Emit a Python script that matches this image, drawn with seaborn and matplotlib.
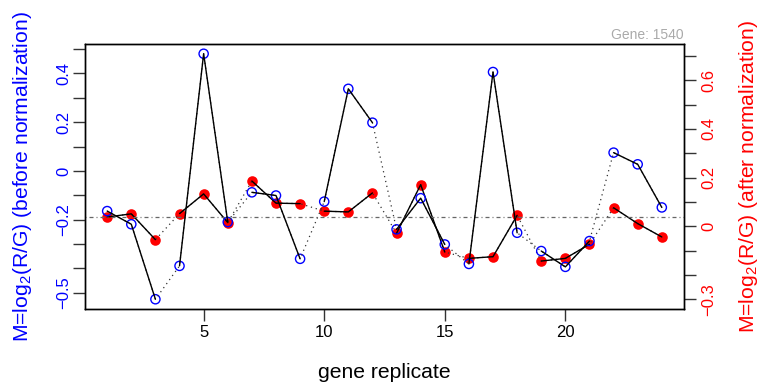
import numpy as np
import pandas as pd
import matplotlib
matplotlib.use("Agg")
import matplotlib.pyplot as plt
import seaborn as sns

# ---- data ----
replicate = list(range(1, 25))
group = [1, 1, 1, 2, 2, 2, 3, 3, 3, 4, 4, 4, 5, 5, 5, 6, 6, 6, 7, 7, 7, 8, 8, 8]
m_before = [-0.165, -0.219, -0.527, -0.390, 0.481, -0.210, -0.088, -0.101, -0.361,
            -0.126, 0.337, 0.198, -0.240, -0.112, -0.302, -0.382, 0.406, -0.254,
            -0.329, -0.394, -0.288, 0.075, 0.027, -0.150]
m_after = [0.038, 0.051, -0.055, 0.052, 0.133, 0.015, 0.186, 0.095, 0.093,
           0.062, 0.059, 0.137, -0.029, 0.171, -0.106, -0.132, -0.125, 0.045,
           -0.143, -0.132, -0.074, 0.076, 0.011, -0.044]
ref_level = -0.188

x_ticks = [5, 10, 15, 20]
left_ticks = [-0.5, -0.4, -0.3, -0.2, -0.1, 0.0, 0.1, 0.2, 0.3, 0.4, 0.5]
left_labels = ["\u22120.5", "", "", "\u22120.2", "", "0", "", "0.2", "", "0.4", ""]
right_ticks = [-0.3, -0.2, -0.1, 0.0, 0.1, 0.2, 0.3, 0.4, 0.5, 0.6, 0.7]
right_labels = ["\u22120.3", "", "", "0", "", "0.2", "", "0.4", "", "0.6", ""]

title_txt = "Gene: 1540"
xlab = "gene replicate"
ylab_left = "M=log$_2$(R/G) (before normalization)"
ylab_right = "M=log$_2$(R/G) (after normalization)"

df = pd.DataFrame({"rep": replicate, "grp": group, "before": m_before, "after": m_after})

# ---- style ----
sns.set_style("white")
plt.rcParams["font.family"] = ["Liberation Sans", "DejaVu Sans"]
plt.rcParams["mathtext.fontset"] = "custom"
plt.rcParams["mathtext.rm"] = "Liberation Sans"
plt.rcParams["mathtext.it"] = "Liberation Sans:italic"
plt.rcParams["mathtext.bf"] = "Liberation Sans:bold"
plt.rcParams["axes.unicode_minus"] = True

W, H = 759, 384
fig = plt.figure(figsize=(W / 100, H / 100), dpi=100)
L, R, T, B = 85, 684, 44, 309
ax = fig.add_axes([L / W, 1 - B / H, (R - L) / W, (B - T) / H])
ax2 = ax.twinx()

ax.set_xlim(0.08, 24.92)
ax.set_ylim(-0.567, 0.521)
ax2.set_ylim(-0.340, 0.749)

dotted = (0, (1, 3))

# right axis (after normalization): red filled
sns.scatterplot(data=df, x="rep", y="after", ax=ax2, color="#ff0000", s=58,
                linewidth=0, legend=False, zorder=3)
sns.lineplot(data=df, x="rep", y="after", ax=ax2, estimator=None, sort=False,
             color="#333333", lw=0.9, linestyle=dotted, legend=False, zorder=4)
sns.lineplot(data=df, x="rep", y="after", units="grp", ax=ax2, estimator=None,
             sort=False, color="black", lw=1.0, legend=False, zorder=5)

# left axis (before normalization): blue open circles
ax.axhline(ref_level, color="#666666", lw=0.9, linestyle=(0, (0.8, 2.4, 3.2, 2.4)), zorder=1)
sns.scatterplot(data=df, x="rep", y="before", ax=ax, facecolor="none",
                edgecolor="#0000ff", s=44, linewidth=1.0, legend=False, zorder=3)
sns.lineplot(data=df, x="rep", y="before", ax=ax, estimator=None, sort=False,
             color="#333333", lw=0.9, linestyle=dotted, legend=False, zorder=4)
sns.lineplot(data=df, x="rep", y="before", units="grp", ax=ax, estimator=None,
             sort=False, color="black", lw=1.0, legend=False, zorder=5)

ax.set_zorder(ax2.get_zorder() + 1)
ax.patch.set_visible(False)

# ticks
tick_len = 8.8
ax.set_xticks(x_ticks)
ax.set_xticklabels([str(v) for v in x_ticks])
ax.set_yticks(left_ticks)
ax.set_yticklabels(left_labels, rotation=90, va="center")
ax2.set_yticks(right_ticks)
ax2.set_yticklabels(right_labels, rotation=90, va="center")

ax.tick_params(axis="x", direction="out", length=tick_len, width=1.0, color="#333333",
               labelsize=12, pad=2.9, labelcolor="black", top=False, bottom=True)
ax.tick_params(axis="y", direction="out", length=tick_len, width=1.0, color="#333333",
               labelsize=12, pad=1.0, labelcolor="#0000ff", left=True, right=False)
ax2.tick_params(axis="y", direction="out", length=tick_len, width=1.0, color="#333333",
                labelsize=12, pad=3.6, labelcolor="#ff0000", right=True, left=False)

for a in (ax, ax2):
    for sp in a.spines.values():
        sp.set_visible(True)
        sp.set_color("black")
        sp.set_linewidth(1.0)

# labels
ax.set_xlabel(xlab, fontsize=15.2, color="black", va="baseline")
ax.xaxis.set_label_coords(0.5, (B - 378) / (B - T))
ax.set_ylabel(ylab_left, fontsize=15.2, color="#0000ff", va="center")
ax.yaxis.set_label_coords((23 - L) / (R - L), 0.5)
ax2.set_ylabel(ylab_right, fontsize=15.2, color="#ff0000", va="center", rotation=90)
ax2.yaxis.set_label_coords((748 - L) / (R - L), 0.5)

ax.set_title(title_txt, loc="right", color="#aaaaaa", fontsize=10, pad=3.6)

fig.savefig("out.png", dpi=100)
